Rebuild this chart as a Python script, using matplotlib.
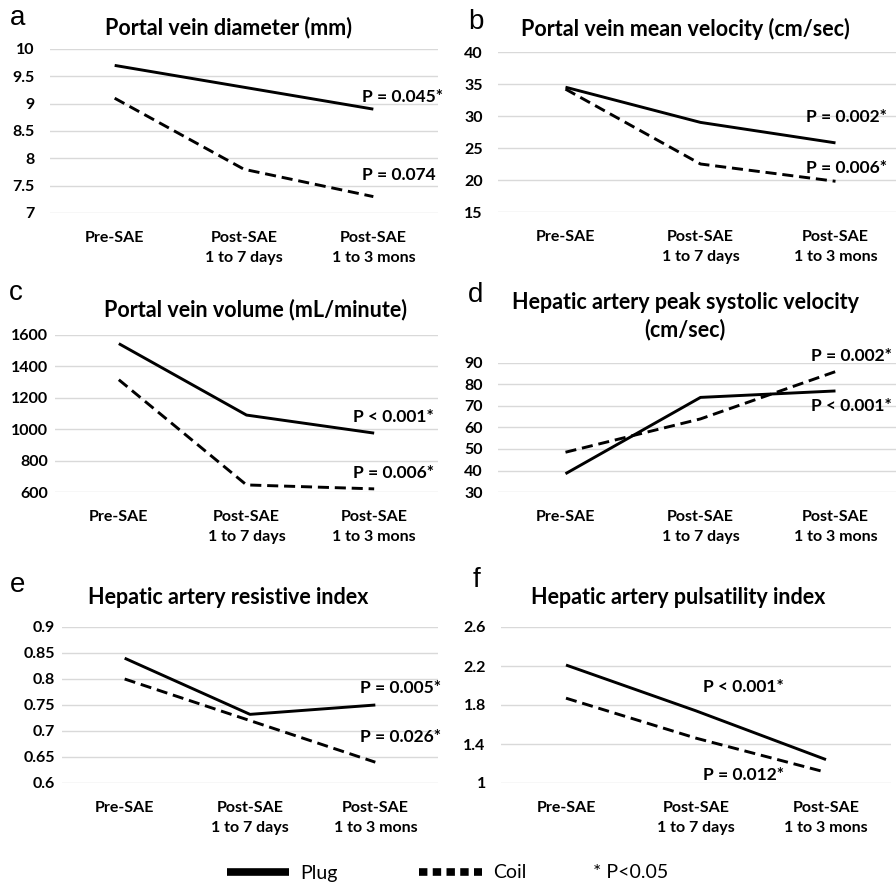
import numpy as np
import matplotlib
matplotlib.use("Agg")
import matplotlib.pyplot as plt
from matplotlib.lines import Line2D

plt.rcParams['font.family'] = ['Lato', 'DejaVu Sans']

W, H = 896, 882

cats = ["Pre-SAE", "Post-SAE\n1 to 7 days", "Post-SAE\n1 to 3 mons"]

# panel data (plug = solid, coil = dashed)
a_plug = [9.7, 9.3, 8.9]
a_coil = [9.1, 7.8, 7.3]
a_ticks = [7, 7.5, 8, 8.5, 9, 9.5, 10]
a_ticklabels = ["7", "7.5", "8", "8.5", "9", "9.5", "10"]

b_plug = [34.5, 29.0, 25.8]
b_coil = [34.2, 22.5, 19.8]
b_ticks = [15, 20, 25, 30, 35, 40]

c_plug = [1545, 1090, 975]
c_coil = [1315, 645, 620]
c_ticks = [600, 800, 1000, 1200, 1400, 1600]

d_plug = [38.5, 74, 77]
d_coil = [48.5, 64, 86]
d_ticks = [30, 40, 50, 60, 70, 80, 90]

e_plug = [0.84, 0.732, 0.75]
e_coil = [0.80, 0.72, 0.64]
e_ticks = [0.6, 0.65, 0.7, 0.75, 0.8, 0.85, 0.9]
e_ticklabels = ["0.6", "0.65", "0.7", "0.75", "0.8", "0.85", "0.9"]

f_plug = [2.21, 1.74, 1.24]
f_coil = [1.87, 1.46, 1.11]
f_ticks = [1, 1.4, 1.8, 2.2, 2.6]
f_ticklabels = ["1", "1.4", "1.8", "2.2", "2.6"]

titles = {
    "a": "Portal vein diameter (mm)",
    "b": "Portal vein mean velocity (cm/sec)",
    "c": "Portal vein volume (mL/minute)",
    "d": "Hepatic artery peak systolic velocity\n(cm/sec)",
    "e": "Hepatic artery resistive index",
    "f": "Hepatic artery pulsatility index",
}

fig = plt.figure(figsize=(W / 100, H / 100), dpi=100)


def fx(x):
    return x / W


def fy(y):
    return 1 - y / H


def panel(box, plug, coil, ticks, ticklabels, pad):
    left, top, right, bottom = box
    ax = fig.add_axes([fx(left), fy(bottom), (right - left) / W, (bottom - top) / H])
    x = np.arange(3)
    ax.plot(x, plug, color="black", lw=2.1, solid_capstyle="butt", clip_on=False, zorder=3)
    ax.plot(x, coil, color="black", lw=2.1, dashes=(3.8, 2), dash_capstyle="butt", clip_on=False, zorder=3)
    ax.set_xlim(-0.5, 2.5)
    ax.set_ylim(ticks[0], ticks[-1])
    ax.set_yticks(ticks)
    ax.set_yticklabels(ticklabels if ticklabels is not None else [str(t) for t in ticks],
                       fontsize=11.5, fontweight="bold")
    ax.set_xticks(x)
    ax.set_xticklabels(cats, fontsize=11.5, fontweight="bold", linespacing=1.5, va="top")
    ax.tick_params(axis="x", length=0, pad=13)
    ax.tick_params(axis="y", length=0, pad=pad)
    ax.grid(axis="y", color="#d9d9d9", lw=1)
    for s in ax.spines.values():
        s.set_visible(False)
    ax.set_axisbelow(True)
    return ax


panel((50, 49, 438, 213), a_plug, a_coil, a_ticks, a_ticklabels, 11)
panel((498, 52, 903, 212), b_plug, b_coil, b_ticks, None, 11)
panel((55, 335, 438, 492), c_plug, c_coil, c_ticks, None, 5)
panel((498, 363, 903, 492), d_plug, d_coil, d_ticks, None, 11)
panel((62, 627, 438, 783), e_plug, e_coil, e_ticks, e_ticklabels, 5)
panel((501, 627, 891, 783), f_plug, f_coil, f_ticks, f_ticklabels, 11)

# panel letters
for letter, (x, y) in {"a": (18, 18), "b": (476, 22), "c": (16, 293),
                       "d": (476, 295), "e": (18, 585), "f": (476, 580)}.items():
    fig.text(fx(x), fy(y), letter, fontsize=20, family="Liberation Sans",
             ha="center", va="center")

# titles
for key, (x, y) in {"a": (228, 28), "b": (685, 29), "c": (256, 310),
                    "d": (685, 316), "e": (228, 597), "f": (678, 597)}.items():
    fig.text(fx(x), fy(y), titles[key], fontsize=15.5, fontweight="bold",
             ha="center", va="center", linespacing=1.3)

# p-value labels
p_labels = [
    ("P = 0.045*", 362, 97), ("P = 0.074", 362, 175),
    ("P = 0.002*", 806, 117), ("P = 0.006*", 806, 168),
    ("P < 0.001*", 353, 417), ("P = 0.006*", 353, 473),
    ("P = 0.002*", 811, 356), ("P < 0.001*", 811, 406),
    ("P = 0.005*", 360, 688), ("P = 0.026*", 360, 737),
    ("P < 0.001*", 703, 687), ("P = 0.012*", 703, 775),
]
for txt, x, y in p_labels:
    fig.text(fx(x), fy(y), txt, fontsize=12.5, fontweight="bold", ha="left", va="center")

# legend
h_plug = Line2D([], [], color="black", lw=5.5, solid_capstyle="butt")
h_coil = Line2D([], [], color="black", lw=5.5, dashes=(1.1, 0.7), dash_capstyle="butt")
fig.legend([h_plug, h_coil], ["Plug", "Coil"], loc="center left",
           bbox_to_anchor=(fx(209), fy(873)), ncol=2, frameon=False,
           fontsize=14, handlelength=3.2, handletextpad=0.6, columnspacing=4.2)
fig.text(fx(593), fy(873), "* P<0.05", fontsize=14, ha="left", va="center")

fig.savefig("out.png", dpi=100)
